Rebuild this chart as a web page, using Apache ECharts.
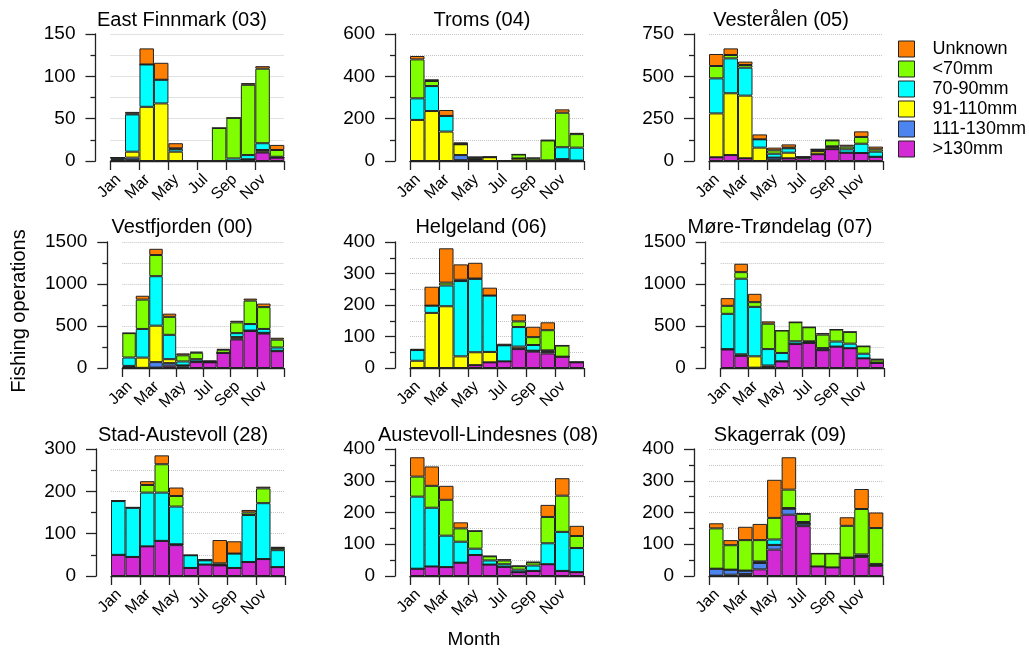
<!DOCTYPE html>
<html><head><meta charset="utf-8">
<script src="https://cdn.jsdelivr.net/npm/echarts@6/dist/echarts.min.js"></script>
<style>html,body{margin:0;padding:0;background:#fff}#c{width:1029px;height:650px}</style>
</head><body><div id="c"></div>
<script>
// ---------------- DATA ----------------
const months = ['Jan','Feb','Mar','Apr','May','Jun','Jul','Aug','Sep','Oct','Nov','Dec'];
const monthTickPositions = [0, 2, 4, 6, 8, 10, 12];
const sizeClasses = ['>130mm','111-130mm','91-110mm','70-90mm','<70mm','Unknown']; // stack order bottom -> top
const legendOrder = ['Unknown','<70mm','70-90mm','91-110mm','111-130mm','>130mm'];
const regions = ['East Finnmark (03)','Troms (04)','Vesterålen (05)',
                 'Vestfjorden (00)','Helgeland (06)','Møre-Trøndelag (07)',
                 'Stad-Austevoll (28)','Austevoll-Lindesnes (08)','Skagerrak (09)'];
const yMax  = [150, 600, 750, 1500, 400, 1500, 300, 400, 400];
const yStep = [50, 200, 250, 500, 100, 500, 100, 100, 100];

// rows follow sizeClasses: >130, 111-130, 91-110, 70-90, <70, Unknown ; columns Jan..Dec
const eastFinnmark = [
  [0,1,0,0,0,0,0,0,0,1,10,4],
  [1,3,0,0,0,0,0,0,0,1,1,0],
  [1,7,64,68,11,0,0,0,0,0,2,0],
  [2,44,50,28,3,0,0,0,3,5,8,1],
  [0,1,0,0,1,0,0,39,48,83,88,8],
  [0,2,19,20,6,0,0,0,0,2,3,6]
];
const troms = [
  [0,0,0,4,2,0,0,2,0,0,5,2],
  [0,0,0,24,2,0,0,0,2,0,2,0],
  [194,236,139,51,5,18,0,10,0,0,2,0],
  [102,118,74,0,0,0,0,0,0,3,56,61],
  [184,24,0,2,9,0,0,19,10,94,163,64],
  [16,8,28,7,1,1,0,0,4,2,16,6]
];
const vesteralen = [
  [22,35,16,0,5,16,16,40,70,49,47,25],
  [0,0,0,0,15,0,5,0,0,0,0,0],
  [259,365,370,79,0,33,0,17,13,0,0,0],
  [207,206,165,49,23,26,0,2,4,20,55,30],
  [73,20,16,0,20,4,2,10,35,16,40,14],
  [71,39,20,29,16,19,3,0,2,11,33,16]
];
const vestfjorden = [
  [5,0,5,27,20,70,68,180,340,440,410,200],
  [5,2,65,31,11,8,0,0,9,6,9,5],
  [15,122,434,47,0,0,0,0,19,0,0,0],
  [100,341,589,290,47,27,0,0,47,77,46,39],
  [290,349,252,214,73,77,14,38,128,279,260,93],
  [0,46,74,38,23,12,3,7,19,24,42,23]
];
const helgeland = [
  [0,0,0,0,9,18,21,60,52,46,36,18],
  [0,0,0,0,0,0,0,2,3,4,0,0],
  [23,175,196,37,41,33,0,6,0,3,0,0],
  [34,23,66,239,233,179,51,62,18,3,0,0],
  [0,0,9,4,1,0,0,18,25,64,35,0],
  [4,60,109,49,50,25,5,22,33,25,1,0]
];
const moreTrondelag = [
  [220,145,2,12,78,285,298,212,255,235,115,60],
  [5,3,2,3,2,3,5,5,0,0,0,0],
  [0,15,135,15,0,0,5,0,0,0,0,0],
  [420,900,589,195,99,30,10,20,60,55,55,5],
  [95,78,56,302,267,227,167,160,143,140,89,35],
  [92,100,99,28,0,0,0,20,0,0,0,7]
];
const stadAustevoll = [
  [50,45,70,83,73,19,27,25,19,33,40,21],
  [0,0,0,0,2,0,0,0,0,0,0,0],
  [0,0,0,0,0,0,0,0,0,0,0,0],
  [127,116,127,114,89,30,10,1,34,111,132,40],
  [1,1,18,67,25,0,1,4,0,6,35,5],
  [0,0,9,21,20,0,2,55,29,6,4,3]
];
const austevollLindesnes = [
  [23,30,28,42,66,36,29,12,16,37,16,12],
  [0,0,0,0,0,0,0,0,0,0,0,0],
  [0,0,0,0,0,0,0,0,0,0,0,0],
  [227,185,99,66,20,13,8,8,17,66,123,76],
  [63,69,113,42,56,13,12,11,10,83,114,38],
  [61,61,44,19,0,1,4,1,1,38,55,32]
];
const skagerrak = [
  [1,4,6,21,83,193,157,30,27,57,60,32],
  [22,16,11,20,15,19,8,0,0,1,3,2],
  [0,0,0,2,0,0,0,0,0,0,0,0],
  [0,0,0,3,17,2,5,0,0,0,5,4],
  [127,77,96,67,68,58,26,41,44,100,143,113],
  [16,16,42,51,120,102,1,0,0,27,63,49]
];
const panelData = [eastFinnmark, troms, vesteralen, vestfjorden, helgeland,
                   moreTrondelag, stadAustevoll, austevollLindesnes, skagerrak];

// ---------------- LAYOUT / STYLE ----------------
const FONT = 'Liberation Sans, Arial, Helvetica, sans-serif';
const colors = {'>130mm':'#d42ad6','111-130mm':'#4d85f0','91-110mm':'#ffff00',
                '70-90mm':'#00ffff','<70mm':'#7fff00','Unknown':'#ff7f00'};
const gridLeft  = [110.5, 410, 709, 122.3, 410, 720.7, 111, 410, 709];
const gridRight = [284.3, 584, 883, 284, 584, 884, 285, 584, 883.3];
const rowTop = [34, 242, 449];
const rowHeight = [127, 126, 127];
const titleCenterX = [182, 482, 781, 182, 481, 780, 183, 488, 780];
const titleTop = [10, 217, 425];
const labelShift = 0.55;

const grids = [], xAxes = [], yAxes = [], series = [], titles = [];
for (let i = 0; i < 9; i++) {
  const r = Math.floor(i / 3);
  grids.push({left: gridLeft[i], top: rowTop[r], width: gridRight[i] - gridLeft[i], height: rowHeight[r]});
  // hidden category axis carrying the bars
  xAxes.push({type: 'category', gridIndex: i, data: months, show: false, boundaryGap: true, position: 'bottom'});
  // visible value axis for ticks and month labels
  xAxes.push({
    type: 'value', gridIndex: i, min: 0, max: 12, interval: 2, position: 'bottom',
    axisLine: {show: true, onZero: false, lineStyle: {color: '#222', width: 1.3}},
    axisTick: {show: true, length: 9, lineStyle: {color: '#222', width: 1.3},
               customValues: monthTickPositions},
    axisLabel: {show: true, rotate: 45, margin: 16, fontSize: 16, color: '#000', fontFamily: FONT,
                customValues: monthTickPositions.slice(0, 6).map(v => v + labelShift),
                formatter: v => months[Math.round(v - labelShift)] || ''},
    splitLine: {show: false}
  });
  yAxes.push({
    type: 'value', gridIndex: i, min: 0, max: yMax[i], interval: yStep[i], offset: 15,
    axisLine: {show: true, onZero: false, lineStyle: {color: '#222', width: 1.3}},
    axisTick: {show: true, length: 10, lineStyle: {color: '#222', width: 1.3}},
    minorTick: {show: true, splitNumber: 2, length: 5, lineStyle: {color: '#222', width: 1.3}},
    axisLabel: {fontSize: 19, margin: 20, color: '#000', fontFamily: FONT, formatter: v => String(v)},
    splitLine: {show: true, lineStyle: {color: '#c4c4c4', type: 'dotted', width: 1}},
    minorSplitLine: {show: true, lineStyle: {color: '#c4c4c4', type: 'dotted', width: 1}}
  });
  titles.push({text: regions[i], left: titleCenterX[i], top: titleTop[r], textAlign: 'center', padding: 0,
               textStyle: {fontSize: 20, fontWeight: 'normal', color: '#000', fontFamily: FONT}});
  sizeClasses.forEach((name, k) => {
    series.push({
      type: 'bar', name: name, xAxisIndex: 2 * i, yAxisIndex: i, stack: 'p' + i,
      data: panelData[i][k], barCategoryGap: '0%', barGap: '0%',
      itemStyle: {color: colors[name], borderColor: '#222', borderWidth: 1},
      emphasis: {disabled: true}
    });
  });
}

const chart = echarts.init(document.getElementById('c'), null, {renderer: 'canvas'});
chart.setOption({
  animation: false,
  backgroundColor: '#fff',
  title: titles,
  grid: grids,
  xAxis: xAxes,
  yAxis: yAxes,
  series: series,
  legend: {
    data: legendOrder, orient: 'vertical', left: 898, top: 40, padding: 0,
    itemWidth: 16, itemHeight: 16, itemGap: 2, icon: 'rect',
    itemStyle: {borderColor: '#222', borderWidth: 1},
    textStyle: {fontSize: 18, color: '#000', fontFamily: FONT, lineHeight: 18, padding: [0, 0, 0, 13]},
    selectedMode: false
  },
  graphic: [
    {type: 'text', x: 19.5, y: 311, rotation: Math.PI / 2,
     style: {text: 'Fishing operations', fontSize: 20, fontFamily: FONT, fill: '#000', align: 'center', verticalAlign: 'middle'}},
    {type: 'text', x: 474, y: 640,
     style: {text: 'Month', fontSize: 19, fontFamily: FONT, fill: '#000', align: 'center', verticalAlign: 'middle'}}
  ]
});
</script>
</body></html>
